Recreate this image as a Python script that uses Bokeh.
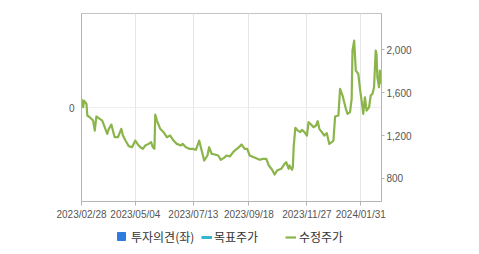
from datetime import datetime
from bokeh.plotting import figure
from bokeh.layouts import column
from bokeh.models import (Range1d, LinearAxis, FixedTicker, DatetimeTickFormatter,
                          NumeralTickFormatter, Legend, LegendItem)
from bokeh.embed import file_html
from bokeh.resources import INLINE

dates = ["2023-02-28","2023-03-02","2023-03-03","2023-03-06","2023-03-07","2023-03-10","2023-03-14",
 "2023-03-16","2023-03-18","2023-03-22","2023-03-25","2023-03-28","2023-03-31","2023-04-02","2023-04-05",
 "2023-04-09","2023-04-13","2023-04-17","2023-04-19","2023-04-22","2023-04-26","2023-04-30","2023-05-04",
 "2023-05-07","2023-05-10","2023-05-13","2023-05-16","2023-05-20","2023-05-23","2023-05-25","2023-05-27",
 "2023-05-28","2023-05-30","2023-06-03","2023-06-07","2023-06-11","2023-06-15","2023-06-19","2023-06-23",
 "2023-06-28","2023-06-30","2023-07-04","2023-07-08","2023-07-12","2023-07-16","2023-07-20","2023-07-22",
 "2023-07-26","2023-07-30","2023-08-01","2023-08-04","2023-08-08","2023-08-12","2023-08-15","2023-08-19",
 "2023-08-22","2023-08-26","2023-08-30","2023-09-02","2023-09-06","2023-09-09","2023-09-13","2023-09-16",
 "2023-09-19","2023-09-24","2023-10-01","2023-10-05","2023-10-09","2023-10-12","2023-10-16","2023-10-19",
 "2023-10-22","2023-10-27","2023-10-31","2023-11-02","2023-11-05","2023-11-06","2023-11-09","2023-11-10",
 "2023-11-11","2023-11-13","2023-11-16","2023-11-19","2023-11-21","2023-11-24","2023-11-27","2023-11-29",
 "2023-12-02","2023-12-05","2023-12-08","2023-12-10","2023-12-12","2023-12-15","2023-12-18","2023-12-21",
 "2023-12-24","2023-12-27","2023-12-29","2023-12-31","2024-01-04","2024-01-06","2024-01-09","2024-01-11",
 "2024-01-13","2024-01-15","2024-01-18","2024-01-20","2024-01-21","2024-01-23","2024-01-25","2024-01-28",
 "2024-01-30","2024-02-01","2024-02-03","2024-02-05","2024-02-07","2024-02-10","2024-02-12","2024-02-14",
 "2024-02-16","2024-02-18","2024-02-19","2024-02-20","2024-02-22","2024-02-23","2024-02-25"]
prices = [1540,1463,1525,1494,1386,1370,1339,
 1246,1377,1355,1339,1277,1215,1262,1302,
 1184,1184,1262,1200,1153,1101,1091,1153,
 1116,1091,1076,1107,1122,1138,1091,1076,
 1395,1339,1262,1231,1184,1200,1153,1122,
 1107,1122,1091,1076,1076,1067,1153,1091,
 967,1014,1091,1029,1023,1014,974,992,
 1014,1005,1045,1067,1091,1116,1076,1076,
 1014,998,974,983,983,921,881,837,
 874,890,936,952,890,921,881,905,
 1091,1271,1246,1231,1253,1231,1200,1324,
 1302,1277,1293,1333,1262,1231,1200,1222,
 1122,1138,1153,1377,1386,1634,1572,1510,
 1448,1401,1417,1541,1990,2083,1804,1773,
 1634,1525,1401,1556,1432,1463,1572,1587,
 1649,1990,1959,1742,1649,1804,1680]
# no opinion / target-price values are shown in the chart
opinion = [float("nan")]
target = [float("nan")]

tick_dates = ["2023-02-28","2023-05-04","2023-07-13","2023-09-18","2023-11-27","2024-01-31"]
price_ticks = [800, 1200, 1600, 2000]
opinion_ticks = [0]
legend_labels = ["투자의견(좌)", "목표주가", "수정주가"]

x = [datetime.strptime(d, "%Y-%m-%d") for d in dates]
xt = [datetime.strptime(d, "%Y-%m-%d").timestamp() * 1000 for d in tick_dates]

p = figure(width=479, height=228, x_axis_type="datetime",
           x_range=Range1d(datetime(2023, 2, 28), datetime(2024, 2, 25)),
           y_range=Range1d(-1, 1), output_backend="svg", toolbar_location=None,
           min_border_left=81, min_border_right=98, min_border_top=13, min_border_bottom=27)
p.extra_y_ranges = {"price": Range1d(586, 2335)}

AX_FONT = "Liberation Sans"
xa = p.xaxis[0]
xa.ticker = FixedTicker(ticks=xt)
fmt = "%Y/%m/%d"
xa.formatter = DatetimeTickFormatter(milliseconds=fmt, seconds=fmt, minsec=fmt, minutes=fmt,
                                     hourmin=fmt, hours=fmt, days=fmt, months=fmt, years=fmt)
ya = p.yaxis[0]
ya.ticker = FixedTicker(ticks=opinion_ticks)
ya.major_tick_out = 0
ya.major_tick_in = 0
ya.minor_tick_out = 0
ya.minor_tick_in = 0
ya.major_label_standoff = 7
ra = LinearAxis(y_range_name="price", ticker=FixedTicker(ticks=price_ticks),
                formatter=NumeralTickFormatter(format="0,0"))
p.add_layout(ra, "right")

for ax in [xa, ya, ra]:
    ax.axis_line_color = "#b4b4b4"
    ax.major_tick_line_color = "#b4b4b4"
    ax.minor_tick_line_color = None
    ax.major_label_text_font = AX_FONT
    ax.major_label_text_font_size = "10px"
    ax.major_label_text_color = "#555555"
xa.major_tick_out = 4
xa.major_tick_in = 0
xa.major_label_standoff = 3
ra.major_tick_out = 3
ra.major_tick_in = 0
ra.major_label_standoff = 2

p.xgrid.grid_line_color = "#e6e6e6"
p.ygrid.grid_line_color = "#eeeeee"
p.ygrid.ticker = FixedTicker(ticks=opinion_ticks)
p.outline_line_color = "#c4c4c4"
p.background_fill_color = "white"
p.border_fill_color = "white"

OP_COLOR, TG_COLOR, PX_COLOR = "#2E7CE0", "#36B6CE", "#8BB54A"
p.line(x, prices, line_color=PX_COLOR, line_width=2.2, line_join="round", y_range_name="price")

# legend strip (frames of the column are aligned: its frame spans the same x as the chart's)
lf = figure(width=479, height=26, x_range=Range1d(0, 1), y_range=Range1d(0, 1),
            x_axis_location=None, y_axis_location=None, output_backend="svg",
            toolbar_location=None, min_border=0)
lf.grid.visible = False
lf.outline_line_color = None
lf.border_fill_color = "white"
lf.background_fill_color = "white"
l_op = lf.scatter(x[:1], opinion, marker="square", size=8, color=OP_COLOR)
l_tg = lf.line(x[:1], target, line_color=TG_COLOR, line_width=3)
l_px = lf.line(x[:1], target, line_color=PX_COLOR, line_width=2.2)

def add_legend(label, r, loc, gw, gh, standoff):
    lg = Legend(items=[LegendItem(label=label, renderers=[r])],
                location=loc, orientation="horizontal", padding=0, margin=0,
                border_line_color=None, background_fill_alpha=0,
                glyph_width=gw, glyph_height=gh, label_height=16,
                label_standoff=standoff, label_text_font="Noto Sans CJK KR",
                label_text_font_size="12px", label_text_color="#333333")
    lf.add_layout(lg, "center")

add_legend(legend_labels[0], l_op, (30, 8), 20, 20, 0)
add_legend(legend_labels[1], l_tg, (120, 9), 11, 16, 2)
add_legend(legend_labels[2], l_px, (204, 9), 11, 16, 3)

layout = column(p, lf, spacing=0)
open("out.html", "w").write(file_html(layout, INLINE))
